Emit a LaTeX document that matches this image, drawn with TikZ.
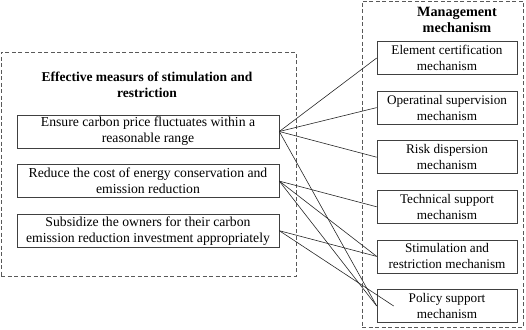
\documentclass[tikz,border=0pt]{standalone}
\usepackage{fontspec}
\setmainfont{Liberation Serif}
\usetikzlibrary{positioning,calc}
\tikzset{
  %% -- boxes --------------------------------------------------
  measbox/.style = {
    rectangle, draw = black!75, fill = white, line width = 0.6pt,
    minimum width = 262pt, minimum height = 33pt, inner sep = 1pt,
    align = center, font = \fontsize{13.7}{16}\selectfont
  },
  mechbox/.style = {
    rectangle, draw = black!75, fill = white, line width = 0.6pt,
    minimum width = 140pt, minimum height = 33pt, inner sep = 1pt,
    align = center, font = \fontsize{13.2}{16}\selectfont
  },
  %% -- dashed group frames ------------------------------------
  grpbox/.style = {
    rectangle, draw = black!65, line width = 0.6pt,
    dash pattern = on 4pt off 2.5pt, inner sep = 0pt, outer sep = 0pt
  },
  ttl/.style  = {align = center, font = \fontsize{13.5}{16}\selectfont\bfseries},
  %% -- links --------------------------------------------------
  link/.style = {line width = 0.6pt, color = black!85},
}

\begin{document}
\begin{tikzpicture}[x = 1pt, y = -1pt]
  \useasboundingbox (0,0) rectangle (526,329);

  %% -- group frames -------------------------------------------
  \node[grpbox, minimum width = 295pt, minimum height = 224pt] (measgrp) at (148.5,164) {};
  \node[grpbox, minimum width = 161pt, minimum height = 326pt] (mechgrp) at (442.5,164) {};

  \node[ttl] (measttl) at (147,85) {Effective measurs of stimulation and\\restriction};
  \node[ttl, font = \fontsize{14.2}{16}\selectfont\bfseries] (mechttl) at (457,20)
    {Management\\mechanism};

  %% -- left: measures -----------------------------------------
  \node[measbox] (ensure) at (148,131.5)
    {Ensure carbon price fluctuates within a\\reasonable range};
  \node[measbox, below=16pt of ensure] (reduce)
    {Reduce the cost of energy conservation and\\emission reduction};
  \node[measbox, below=16pt of reduce] (subsid)
    {Subsidize the owners for their carbon\\emission reduction investment appropriately};

  %% -- right: mechanisms --------------------------------------
  \node[mechbox] (elem) at (447,58) {Element certification\\mechanism};
  \node[mechbox, below=16pt of elem]  (oper)  {Operatinal supervision\\mechanism};
  \node[mechbox, below=16pt of oper]  (risk)  {Risk dispersion\\mechanism};
  \node[mechbox, below=16pt of risk]  (tech)  {Technical support\\mechanism};
  \node[mechbox, below=16pt of tech]  (stim)  {Stimulation and\\restriction mechanism};
  \node[mechbox, below=16pt of stim]  (policy) {Policy support\\mechanism};

  \coordinate (polin) at ($(policy.west)+(17,0)$);

  %% -- links ----------------------------------------------------
  \draw[link] (ensure.east) -- (elem.west);
  \draw[link] (ensure.east) -- (oper.west);
  \draw[link] (ensure.east) -- (risk.west);
  \draw[link] (ensure.east) -- (policy.west);
  \draw[link] (reduce.east) -- (tech.west);
  \draw[link] (reduce.east) -- (stim.west);
  \draw[link] (reduce.east) -- (policy.west);
  \draw[link] (subsid.east) -- (stim.west);
  \draw[link] (subsid.east) -- (polin);

\end{tikzpicture}
\end{document}
